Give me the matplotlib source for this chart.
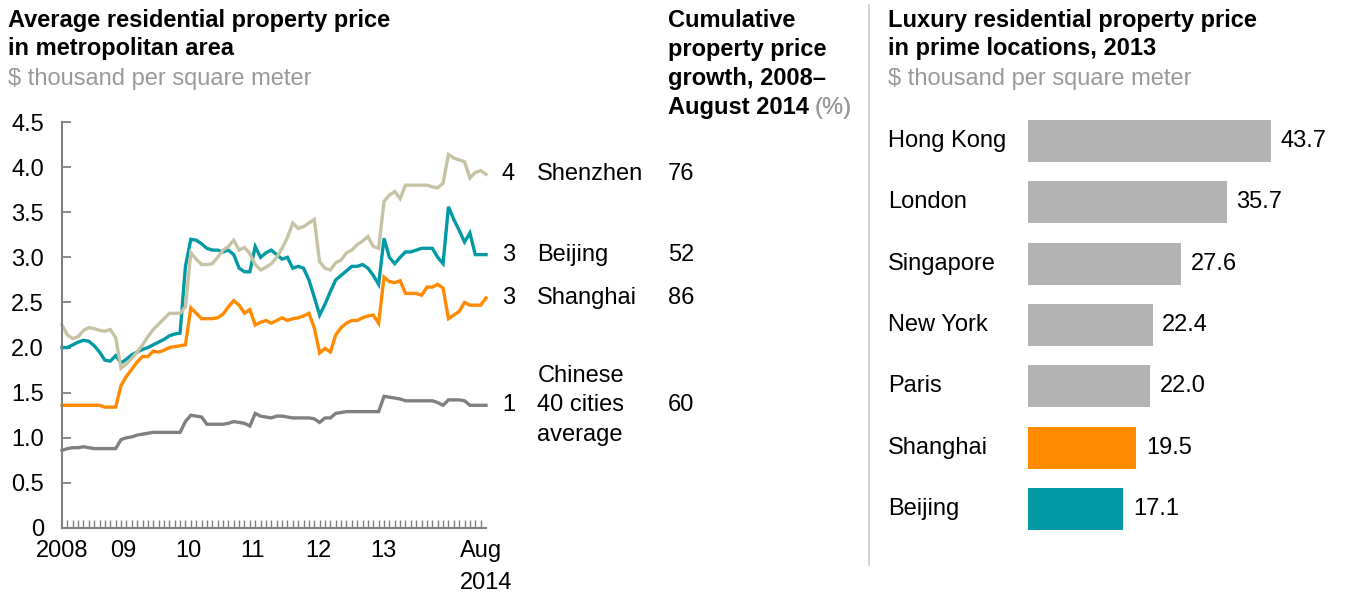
import matplotlib
matplotlib.use("Agg")
import matplotlib.pyplot as plt
import matplotlib.transforms as mtrans
import numpy as np

plt.rcParams["font.family"] = ["Liberation Sans", "DejaVu Sans"]

# Monthly prices, Jan 2008 .. Aug 2014, $ thousand per m2
months = np.arange(80)
shenzhen = [2.25, 2.14, 2.10, 2.12, 2.19, 2.22, 2.21, 2.19, 2.18, 2.20,
            2.11, 1.77, 1.82, 1.88, 1.95, 2.03, 2.12, 2.20, 2.26, 2.32,
            2.38, 2.38, 2.38, 2.45, 3.05, 2.98, 2.92, 2.92, 2.93, 3.00,
            3.08, 3.12, 3.19, 3.08, 3.11, 3.04, 2.92, 2.86, 2.89, 2.93,
            3.00, 3.10, 3.22, 3.38, 3.32, 3.34, 3.38, 3.42, 2.95, 2.88,
            2.86, 2.94, 2.97, 3.05, 3.08, 3.14, 3.18, 3.23, 3.12, 3.10,
            3.62, 3.69, 3.73, 3.65, 3.80, 3.80, 3.80, 3.80, 3.80, 3.78,
            3.77, 3.82, 4.14, 4.10, 4.08, 4.06, 3.88, 3.94, 3.96, 3.92]
beijing = [2.00, 2.00, 2.03, 2.06, 2.08, 2.07, 2.02, 1.95, 1.86, 1.85,
           1.91, 1.83, 1.87, 1.92, 1.95, 1.98, 2.00, 2.03, 2.06, 2.09,
           2.13, 2.15, 2.16, 2.90, 3.20, 3.19, 3.15, 3.10, 3.08, 3.08,
           3.06, 3.08, 3.03, 2.88, 2.84, 2.84, 3.12, 3.00, 3.05, 3.08,
           3.03, 2.98, 3.00, 2.88, 2.90, 2.88, 2.75, 2.56, 2.36, 2.48,
           2.62, 2.75, 2.80, 2.85, 2.90, 2.90, 2.92, 2.88, 2.80, 2.70,
           3.21, 3.00, 2.93, 3.00, 3.06, 3.06, 3.08, 3.10, 3.10, 3.10,
           3.00, 2.93, 3.56, 3.42, 3.30, 3.17, 3.27, 3.03, 3.03, 3.03]
shanghai = [1.36, 1.36, 1.36, 1.36, 1.36, 1.36, 1.36, 1.36, 1.34, 1.34,
            1.34, 1.58, 1.68, 1.76, 1.84, 1.90, 1.90, 1.96, 1.95, 1.97,
            2.00, 2.01, 2.02, 2.03, 2.44, 2.38, 2.32, 2.32, 2.32, 2.33,
            2.37, 2.45, 2.52, 2.47, 2.38, 2.42, 2.25, 2.28, 2.30, 2.27,
            2.30, 2.33, 2.30, 2.32, 2.33, 2.35, 2.38, 2.22, 1.94, 1.99,
            1.95, 2.14, 2.22, 2.27, 2.30, 2.30, 2.33, 2.35, 2.36, 2.27,
            2.78, 2.73, 2.72, 2.74, 2.60, 2.60, 2.60, 2.58, 2.67, 2.67,
            2.70, 2.66, 2.32, 2.36, 2.40, 2.50, 2.47, 2.47, 2.47, 2.55]
cities40 = [0.86, 0.88, 0.89, 0.89, 0.90, 0.89, 0.88, 0.88, 0.88, 0.88,
            0.88, 0.98, 1.00, 1.01, 1.03, 1.04, 1.05, 1.06, 1.06, 1.06,
            1.06, 1.06, 1.06, 1.18, 1.25, 1.24, 1.23, 1.15, 1.15, 1.15,
            1.15, 1.16, 1.18, 1.17, 1.16, 1.13, 1.27, 1.24, 1.23, 1.22,
            1.24, 1.24, 1.23, 1.22, 1.22, 1.22, 1.22, 1.21, 1.17, 1.22,
            1.22, 1.27, 1.28, 1.29, 1.29, 1.29, 1.29, 1.29, 1.29, 1.29,
            1.46, 1.45, 1.44, 1.43, 1.41, 1.41, 1.41, 1.41, 1.41, 1.41,
            1.39, 1.36, 1.42, 1.42, 1.42, 1.41, 1.36, 1.36, 1.36, 1.36]
series_names = ["Shenzhen", "Beijing", "Shanghai", "Chinese\n40 cities\naverage"]
growth_pct = [76, 52, 86, 60]

year_labels = ["2008", "09", "10", "11", "12", "13", "Aug\n2014"]
year_pos = [0, 11.5, 23.5, 35.5, 47.8, 59.8, 79]

lux_cities = ["Hong Kong", "London", "Singapore", "New York", "Paris", "Shanghai", "Beijing"]
lux_price = [43.7, 35.7, 27.6, 22.4, 22.0, 19.5, 17.1]

BEIGE, TEAL, ORANGE, GREY = "#C6C3A5", "#0099A4", "#FF8A00", "#808080"
BAR_GREY, SUB = "#B3B3B3", "#999999"
bar_colors = [BAR_GREY] * 5 + [ORANGE, TEAL]
FS = 17
LS = 1.3

W, H = 1346, 607
fig = plt.figure(figsize=(W / 100, H / 100), dpi=100)

def fx(x):
    return x / W

def fy(y):
    return 1 - y / H

# ---- left: line chart ----
ax = fig.add_axes([fx(62), fy(528), (486 - 62) / W, (528 - 122) / H])
for vals, c in zip([cities40, shanghai, beijing, shenzhen], [GREY, ORANGE, TEAL, BEIGE]):
    ax.plot(months, vals, color=c, lw=2.4, solid_joinstyle="miter", clip_on=False)
ax.set_xlim(0, 79)
ax.set_ylim(0, 4.5)
yt = np.arange(0, 4.51, 0.5)
ax.set_yticks(yt)
ax.set_yticklabels(["0"] + [f"{v:.1f}" for v in yt[1:]], fontsize=FS)
ax.set_xticks(year_pos)
ax.set_xticklabels(year_labels, fontsize=FS, ma="left", linespacing=1.6)
ax.set_xticks(months, minor=True)
ax.tick_params(axis="x", which="major", length=0, pad=8.5)
ax.tick_params(axis="x", which="minor", direction="in", length=5.5, width=1, color=GREY)
ax.tick_params(axis="y", direction="in", length=6.5, width=1.3, color=GREY, pad=13)
for s in ["top", "right"]:
    ax.spines[s].set_visible(False)
for s in ["left", "bottom"]:
    ax.spines[s].set_color(GREY)
    ax.spines[s].set_linewidth(1.5)

for vals, name, g in zip([shenzhen, beijing, shanghai, cities40], series_names, growth_pct):
    last = vals[-1]
    ax.annotate(f"{last:.0f}", xy=(79, last), xytext=(11.5, 0), textcoords="offset points",
                fontsize=FS, va="center", ha="left", annotation_clip=False)
    ax.annotate(name, xy=(79, last), xytext=(37, 0), textcoords="offset points",
                fontsize=FS, va="center", ha="left", annotation_clip=False, linespacing=1.44)
    ax.annotate(f"{g}", xy=(79, last), xytext=(131, 0), textcoords="offset points",
                fontsize=FS, va="center", ha="left", annotation_clip=False)

fig.text(fx(8), fy(9), "Average residential property price\nin metropolitan area",
         fontsize=FS, fontweight="bold", va="top", linespacing=LS)
fig.text(fx(8), fy(79), "$ thousand per square meter", fontsize=FS, color=SUB, va="center")

hdr = fig.text(fx(668), fy(9), "Cumulative\nproperty price\ngrowth, 2008–",
               fontsize=FS, fontweight="bold", va="top", linespacing=1.32)
last_line = fig.text(fx(668), fy(9 + 3 * 29), "August 2014", fontsize=FS,
                     fontweight="bold", va="top")
pct = plt.annotate("(%)", xy=(1, 0), xycoords=last_line, xytext=(4, 0),
                   textcoords="offset points", fontsize=FS, color=SUB, va="bottom")
fig.add_artist(pct)

# separator between panels
fig.add_artist(plt.Line2D([fx(869), fx(869)], [fy(5), fy(565)], color="#CCCCCC", lw=1.2))

# ---- right: bar chart ----
scale = 243 / 43.7  # px per $ thousand
ax2 = fig.add_axes([fx(1028), fy(539.6), (W - 1028) / W, (539.6 - 110.4) / H])
ypos = np.arange(len(lux_cities))
ax2.barh(ypos, lux_price, height=0.685, color=bar_colors, edgecolor="none")
ax2.set_xlim(0, (W - 1028) / scale)
ax2.set_ylim(len(lux_cities) - 0.5, -0.5)
ax2.axis("off")
tr = mtrans.blended_transform_factory(fig.transFigure, ax2.transData)
for i, (c, v) in enumerate(zip(lux_cities, lux_price)):
    ax2.text(fx(888), i, c, transform=tr, fontsize=FS, va="center", ha="left")
    ax2.annotate(f"{v:.1f}", xy=(v, i), xytext=(7, 0), textcoords="offset points",
                 fontsize=FS, va="center", ha="left")

fig.text(fx(888), fy(9), "Luxury residential property price\nin prime locations, 2013",
         fontsize=FS, fontweight="bold", va="top", linespacing=LS)
fig.text(fx(888), fy(79), "$ thousand per square meter", fontsize=FS, color=SUB, va="center")

fig.savefig("out.png", dpi=100, facecolor="white")
